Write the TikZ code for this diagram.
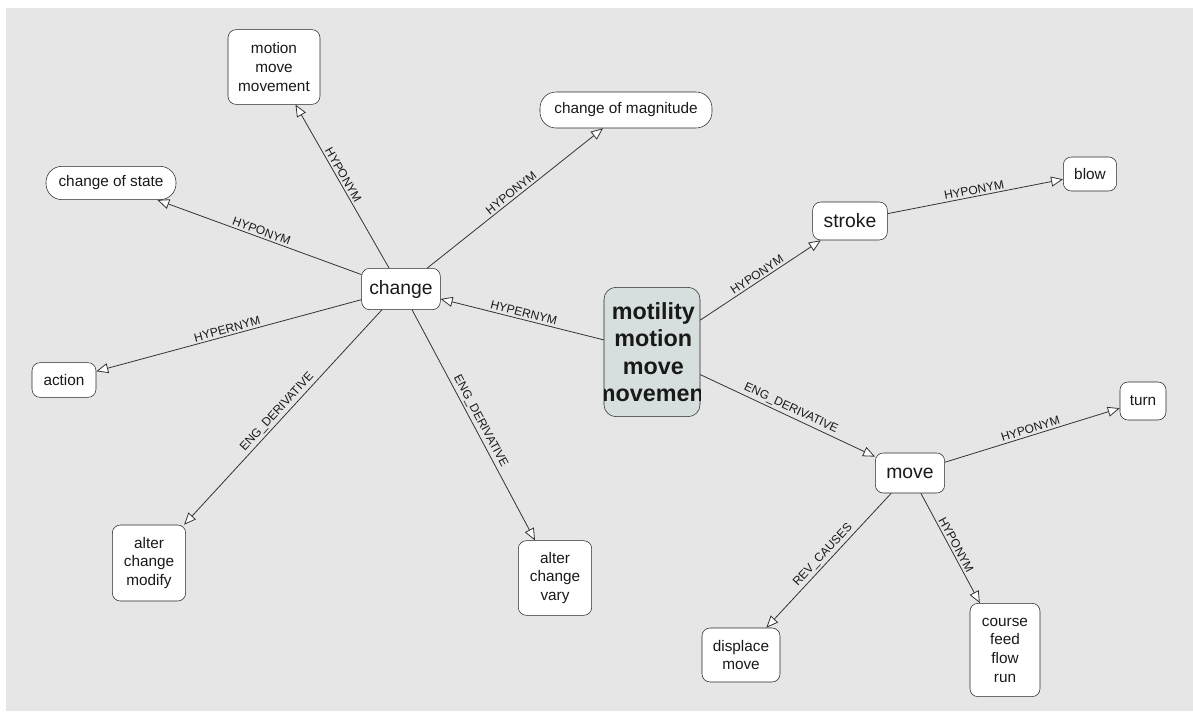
\documentclass[tikz,border=0pt]{standalone}
\usepackage{fontspec}
\setmainfont{Liberation Sans}
\usetikzlibrary{arrows.meta}
\definecolor{Canvas}{HTML}{E6E6E6}
\definecolor{Focus}{HTML}{D7DFDE}

\begin{document}
\begin{tikzpicture}[x=0.75pt,y=-0.75pt,
    box/.style={draw=black!85,fill=white,rounded corners=6pt,align=center,inner sep=1pt,text=black!90,font=\fontsize{11.5}{14}\selectfont},
    pill/.style={box,rounded corners=12pt},
    big/.style={font=\fontsize{14.5}{17}\selectfont},
    rel/.style={draw=black!80,line width=0.6pt,-{Triangle[length=9pt,width=7.5pt,fill=white]}},
    lbl/.style={font=\fontsize{9}{10}\selectfont,text=black!90,midway,sloped,above,inner sep=1.5pt}]
  \useasboundingbox (0,0) rectangle (1193,711);
  \fill[Canvas] (6,8) rectangle (1193,711);

  % focus word, text cut at the box edge
  \node[box,fill=Focus,minimum width=72pt,minimum height=97pt,rounded corners=9pt] (motility) at (652,352) {};
  \begin{scope}
    \clip[rounded corners=9pt] (motility.south west) rectangle (motility.north east);
    \node[align=center,text=black!90,font=\bfseries\fontsize{17.5}{20.5}\selectfont] (motilitytext) at ([xshift=1pt]motility.center) {motility\\motion\\move\\movement};
  \end{scope}

  % left cluster
  \node[box,big,minimum width=59pt,minimum height=31pt] (change) at (401,289) {change};
  \node[box,minimum width=69pt,minimum height=56pt] (motion) at (274,67) {motion\\move\\movement};
  \node[pill,minimum width=129pt,minimum height=27pt] (magnitude) at (626,110) {change of magnitude};
  \node[pill,minimum width=97.5pt,minimum height=25pt] (state) at (111,183) {change of state};
  \node[box,minimum width=48pt,minimum height=26pt] (action) at (64,380) {action};
  \node[box,minimum width=55pt,minimum height=57pt] (modify) at (149,563) {alter\\change\\modify};
  \node[box,minimum width=55pt,minimum height=56pt] (vary) at (555,578) {alter\\change\\vary};

  % right cluster
  \node[box,big,minimum width=56pt,minimum height=28.5pt] (stroke) at (850,221) {stroke};
  \node[box,minimum width=40pt,minimum height=25.5pt] (blow) at (1090,174) {blow};
  \node[box,big,minimum width=52pt,minimum height=30pt] (move) at (910,473) {move};
  \node[box,minimum width=34.5pt,minimum height=28.5pt] (turn) at (1143,401) {turn};
  \node[box,minimum width=58.5pt,minimum height=40.5pt] (displace) at (741,655) {displace\\move};
  \node[box,minimum width=52.5pt,minimum height=70pt] (course) at (1005,650) {course\\feed\\flow\\run};

  % relations
  \draw[rel] (motility) -- node[lbl]{HYPERNYM} (change);
  \draw[rel] (change) -- node[lbl,pos=0.55]{HYPONYM} (motion);
  \draw[rel] (change) -- node[lbl]{HYPONYM} (magnitude);
  \draw[rel] (change) -- node[lbl]{HYPONYM} (state);
  \draw[rel] (change) -- node[lbl]{HYPERNYM} (action);
  \draw[rel] (change) -- node[lbl]{ENG\_DERIVATIVE} (modify);
  \draw[rel] (change) -- node[lbl]{ENG\_DERIVATIVE} (vary);
  \draw[rel] (motility) -- node[lbl]{HYPONYM} (stroke);
  \draw[rel] (stroke) -- node[lbl]{HYPONYM} (blow);
  \draw[rel] (motility) -- node[lbl]{ENG\_DERIVATIVE} (move);
  \draw[rel] (move) -- node[lbl]{HYPONYM} (turn);
  \draw[rel] (move) -- node[lbl]{REV\_CAUSES} (displace);
  \draw[rel] (move) -- node[lbl]{HYPONYM} (course);
\end{tikzpicture}
\end{document}
